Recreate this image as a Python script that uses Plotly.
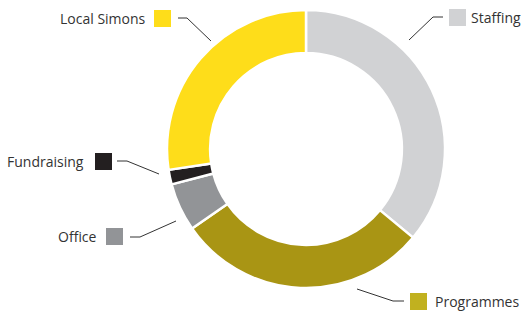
import plotly.graph_objects as go

W, H = 523, 312

labels = ["Staffing", "Programmes", "Office", "Fundraising", "Local Simons"]
values = [36, 29.3, 5.6, 1.7, 27.4]
slice_colors = ["#d1d2d4", "#a99514", "#929497", "#231f20", "#fedd1a"]
key_colors = ["#d1d2d4", "#c1b11f", "#929497", "#231f20", "#fedd1a"]

def px(x):
    return x / W

def py(y):
    return 1 - y / H

cx, cy, r = 306, 149, 139

fig = go.Figure(go.Pie(
    labels=labels, values=values, sort=False, direction="clockwise", rotation=0,
    hole=0.69, textinfo="none", hoverinfo="label+percent",
    marker=dict(colors=slice_colors, line=dict(color="white", width=2.5)),
    domain=dict(x=[px(cx - r), px(cx + r)], y=[py(cy + r), py(cy - r)]),
))

# label layout: (text anchor x, text y, side, square x0, square y0, leader points)
label_layout = {
    "Staffing": (469, 17, "left", 449, 9, [(443, 17), (433, 17), (409, 40)]),
    "Programmes": (433, 301, "left", 410, 293, [(404, 301), (393, 301), (357, 289)]),
    "Office": (99, 236, "right", 106, 228, [(130, 237), (140, 237), (176, 221)]),
    "Fundraising": (86, 161, "right", 95, 153, [(117, 161), (127, 161), (159, 174)]),
    "Local Simons": (148, 18, "right", 154, 10, [(178, 18), (187, 18), (211, 41)]),
}

shapes = []
annotations = []
for lab, kc in zip(labels, key_colors):
    tx, ty, side, sx, sy, pts = label_layout[lab]
    annotations.append(dict(
        x=px(tx), y=py(ty), xref="paper", yref="paper", text=lab, showarrow=False,
        xanchor="left" if side == "left" else "right", yanchor="middle",
        font=dict(family="Open Sans", size=14, color="#333333"),
    ))
    shapes.append(dict(type="rect", xref="paper", yref="paper",
                       x0=px(sx), x1=px(sx + 17), y0=py(sy + 17), y1=py(sy),
                       fillcolor=kc, line=dict(width=0)))
    path = "M " + " L ".join(f"{px(a)},{py(b)}" for a, b in pts)
    shapes.append(dict(type="path", xref="paper", yref="paper", path=path,
                       line=dict(color="#333333", width=1)))

fig.update_layout(
    width=W, height=H, margin=dict(l=0, r=0, t=0, b=0),
    paper_bgcolor="white", plot_bgcolor="white", showlegend=False,
    shapes=shapes, annotations=annotations,
)

fig.write_html("out.html", config={"displayModeBar": False},
               post_script="document.body.style.margin='0';document.body.style.overflow='hidden';")
